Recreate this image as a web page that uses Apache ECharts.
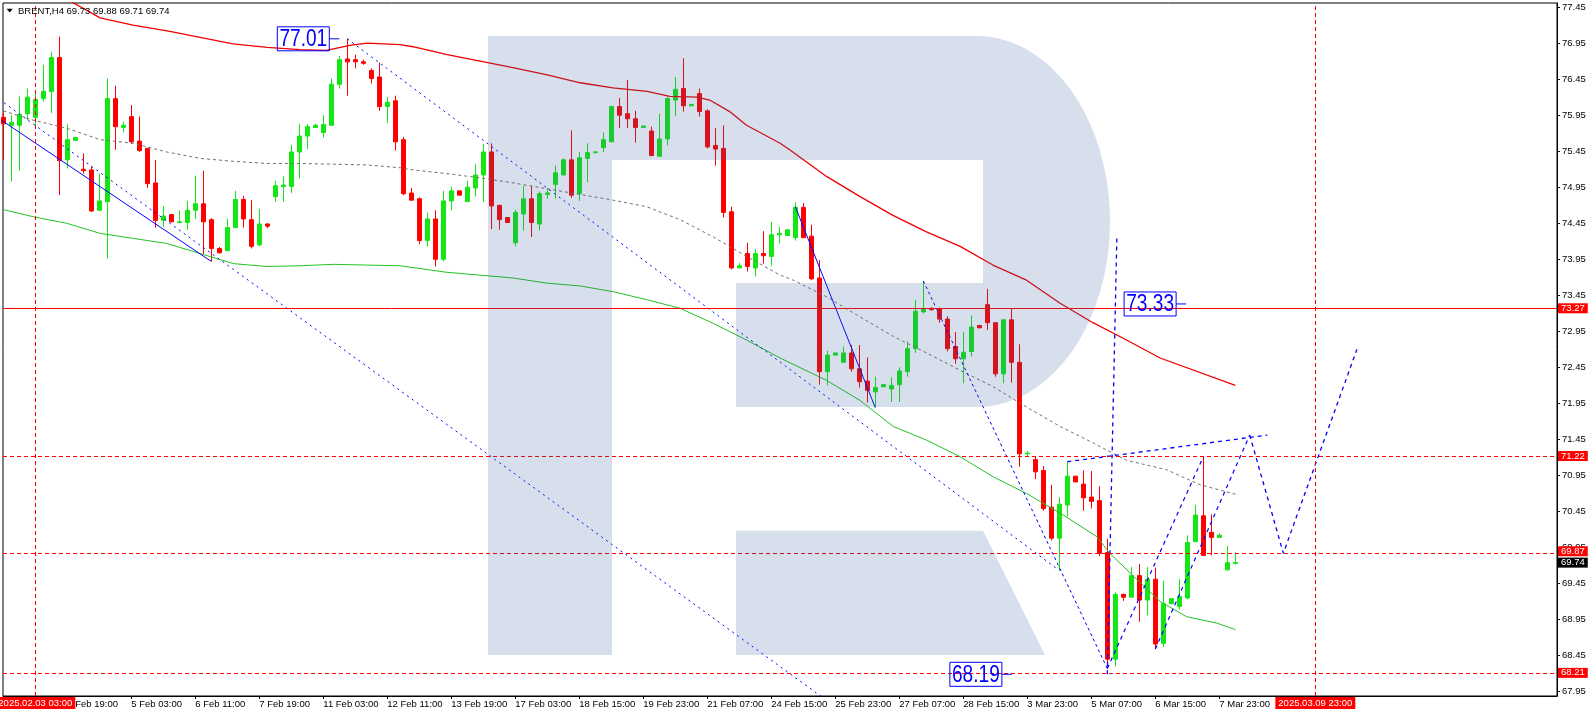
<!DOCTYPE html>
<html><head><meta charset="utf-8">
<script src="https://cdn.jsdelivr.net/npm/echarts@6/dist/echarts.min.js"></script>
<style>html,body{margin:0;padding:0;background:#fff}#c{width:1596px;height:716px}</style>
</head><body><div id="c"></div>
<script>
const symbolName = 'BRENT,H4';
const tickIdx = [8,16,24,32,40,48,56,64,72,80,88,96,104,112,120,128,136,144,152];
const tickLabels = ['3 Feb 19:00','5 Feb 03:00','6 Feb 11:00','7 Feb 19:00','11 Feb 03:00','12 Feb 11:00','13 Feb 19:00','17 Feb 03:00','18 Feb 15:00','19 Feb 23:00','21 Feb 07:00','24 Feb 15:00','25 Feb 23:00','27 Feb 07:00','28 Feb 15:00','3 Mar 23:00','5 Mar 07:00','6 Mar 15:00','7 Mar 23:00'];
const priceTicks = [67.95,68.45,68.95,69.45,69.95,70.45,70.95,71.45,71.95,72.45,72.95,73.45,73.95,74.45,74.95,75.45,75.95,76.45,76.95,77.45];

const open = [75.92,75.81,75.81,75.97,75.92,76.18,76.28,76.75,75.33,75.60,
75.20,75.19,74.63,74.75,76.18,75.78,75.93,75.59,75.49,75.01,
74.49,74.57,74.46,74.46,74.63,74.72,74.50,74.10,74.07,74.39,
74.78,74.50,74.15,74.44,74.82,74.96,74.96,75.44,75.66,75.78,
75.71,75.81,76.38,76.73,76.72,76.69,76.57,76.48,76.07,76.15,
75.61,74.87,74.79,74.21,74.51,73.95,74.76,74.90,74.75,74.94,
75.12,75.44,74.70,74.53,74.18,74.58,74.79,74.44,74.85,74.99,
75.12,75.33,74.86,75.35,75.43,75.50,75.58,76.07,75.97,75.90,
75.78,75.73,75.38,75.62,76.16,76.32,76.08,76.25,76.01,75.53,
75.49,74.61,73.83,74.03,73.83,74.03,73.99,74.29,74.28,74.25,
74.67,74.27,73.69,72.39,72.62,72.52,72.65,72.43,72.26,72.11,
72.18,72.15,72.21,72.39,72.71,73.22,73.27,73.26,73.12,72.74,
72.57,72.67,73.03,73.32,73.07,72.36,73.11,72.52,71.25,71.17,
71.02,70.51,70.08,70.54,70.94,70.83,70.65,70.60,69.88,68.40,
69.30,69.26,69.56,69.22,69.51,68.62,69.17,69.13,69.25,70.03,
70.39,70.16,70.09,69.64,69.73];
const close = [75.83,75.85,75.96,76.20,76.17,76.28,76.75,75.32,75.61,75.64,
75.18,74.62,74.76,76.18,75.79,75.81,75.58,75.46,75.00,74.49,
74.55,74.47,74.47,74.63,74.72,74.47,74.10,74.04,74.39,74.78,
74.51,74.13,74.44,74.41,74.97,74.98,75.44,75.66,75.79,75.81,
75.82,76.38,76.72,76.69,76.69,76.67,76.46,76.07,76.13,75.58,
74.86,74.77,74.21,74.51,73.95,74.76,74.90,74.84,74.95,75.12,
75.44,74.69,74.50,74.46,74.60,74.79,74.46,74.86,74.87,75.15,
75.33,74.84,75.36,75.43,75.44,75.61,76.07,75.95,75.90,75.78,
75.80,75.39,75.62,76.18,76.31,76.08,76.10,76.00,75.51,75.48,
74.60,73.83,73.86,73.85,74.03,74.00,74.29,74.31,74.36,74.67,
74.25,73.68,72.39,72.62,72.65,72.65,72.43,72.25,72.13,72.17,
72.21,72.20,72.40,72.71,73.23,73.26,73.25,73.12,72.71,72.57,
72.66,73.01,73.00,73.07,72.36,73.11,72.52,71.25,71.26,71.00,
70.49,70.08,70.55,70.94,70.86,70.64,70.59,69.87,68.40,69.30,
69.26,69.56,69.22,69.51,68.61,69.17,69.24,69.27,70.02,70.40,
69.84,70.09,70.12,69.74,69.74];
const high = [75.98,75.95,76.21,76.32,76.30,76.65,76.83,77.04,75.83,75.65,
75.42,75.24,75.14,76.46,76.36,75.86,76.09,75.93,75.49,75.33,
74.69,74.58,74.63,74.76,75.11,75.18,74.52,74.12,74.51,74.90,
74.83,74.77,74.65,74.45,75.04,75.10,75.54,75.83,75.83,75.83,
75.95,76.46,76.77,77.01,76.79,76.72,76.60,76.68,76.20,76.22,
75.65,74.94,74.81,74.60,74.63,74.90,74.96,74.90,75.04,75.27,
75.55,75.56,74.70,74.53,74.64,74.97,74.97,74.89,74.94,75.25,
75.35,75.74,75.44,75.56,75.45,75.71,76.08,76.19,76.44,76.01,
75.80,75.79,75.97,76.20,76.48,76.74,76.10,76.32,76.03,75.77,
75.81,74.68,73.90,74.18,74.09,74.34,74.47,74.40,74.36,74.74,
74.73,74.43,73.94,72.68,72.65,72.74,72.76,72.76,72.59,72.32,
72.21,72.31,72.45,72.81,73.39,73.65,73.28,73.28,73.16,72.94,
72.94,73.17,73.04,73.54,73.07,73.12,73.26,72.77,71.29,71.21,
71.08,70.82,70.65,71.14,70.94,71.02,71.01,70.80,70.07,69.33,
69.31,69.68,69.72,69.68,69.67,69.49,69.24,69.51,70.12,70.54,
71.21,70.41,70.15,69.97,69.88];
const low = [75.33,75.03,75.18,75.88,75.77,76.14,75.98,74.84,75.21,75.60,
75.14,74.61,74.63,73.96,75.47,75.71,75.55,75.44,74.94,74.39,
74.40,74.46,74.46,74.36,74.51,74.02,73.92,74.03,74.07,74.39,
74.39,74.10,74.13,74.38,74.75,74.75,74.87,75.07,75.48,75.77,
75.64,75.81,76.32,76.22,76.60,76.65,76.39,76.01,75.84,75.46,
74.84,74.77,74.16,74.13,73.85,73.92,74.63,74.84,74.75,74.82,
74.75,74.37,74.36,74.46,74.13,74.35,74.26,74.35,74.79,74.79,
75.12,74.80,74.76,75.02,75.42,75.44,75.58,75.77,75.77,75.57,
75.78,75.38,75.38,75.53,75.94,76.00,76.08,75.93,75.49,75.25,
74.53,73.81,73.83,73.78,73.71,73.89,73.86,74.17,74.28,74.21,
74.25,73.66,72.21,72.20,72.62,72.52,72.39,72.17,71.96,71.90,
72.18,71.97,71.97,72.32,72.65,73.20,73.24,73.07,72.67,72.50,
72.23,72.60,72.99,72.97,72.32,72.23,72.24,71.07,71.21,70.90,
70.46,70.05,69.63,70.38,70.86,70.46,70.49,69.83,68.27,68.30,
69.21,69.26,68.92,69.01,68.54,68.57,69.17,69.09,69.23,70.03,
69.84,69.84,70.08,69.63,69.71];

const maRed = [[0,78.06],[8.1,77.55],[12.1,77.30],[16.2,77.20],[20.5,77.12],[24.6,77.03],[28.7,76.94],[33.0,76.89],[37.1,76.86],[40.4,76.85],[43.3,76.92],[45.5,76.95],[49.6,76.93],[51.2,76.90],[55.5,76.79],[59.6,76.70],[63.7,76.61],[68.0,76.51],[72.1,76.40],[76.2,76.33],[80.5,76.28],[83.3,76.21],[86.7,76.20],[88.3,76.16],[90.8,76.00],[92.9,75.81],[97.1,75.56],[98.3,75.47],[102.9,75.10],[107.1,74.82],[111.2,74.56],[115.4,74.33],[119.6,74.13],[123.7,73.87],[127.9,73.66],[132.1,73.34],[136.2,73.07],[140.4,72.83],[144.6,72.58],[154,72.20]];
const maGrey = [[0,76.01],[3.75,75.88],[7.9,75.77],[12.1,75.61],[16.25,75.56],[20.4,75.44],[24.6,75.35],[28.75,75.31],[32.9,75.28],[37.1,75.28],[41.25,75.27],[45.4,75.26],[49.6,75.22],[51.25,75.19],[55.4,75.14],[59.6,75.08],[63.75,75.01],[67.9,74.93],[72.1,74.85],[76.25,74.77],[80.4,74.68],[84.6,74.50],[88.75,74.26],[92.9,73.99],[97.1,73.73],[98.75,73.66],[102.9,73.43],[107.1,73.15],[111.25,72.88],[115.4,72.65],[119.6,72.41],[123.75,72.18],[127.9,71.90],[132.1,71.63],[136.25,71.40],[140.4,71.16],[145.4,71.03],[149.6,70.82],[154,70.69]];
const maGreen = [[0,74.64],[3.75,74.54],[7.9,74.45],[12.1,74.31],[16.25,74.24],[20.4,74.17],[24.6,74.03],[28.75,73.89],[32.9,73.85],[37.1,73.86],[41.25,73.88],[45.4,73.87],[49.6,73.86],[55.4,73.77],[59.6,73.73],[63.75,73.69],[67.9,73.62],[72.1,73.58],[76.25,73.50],[80.4,73.39],[84.6,73.27],[88.75,73.06],[92.9,72.83],[97.1,72.58],[102.9,72.27],[107.1,71.99],[111.25,71.63],[115.4,71.44],[119.6,71.21],[123.75,70.93],[127.9,70.70],[132.5,70.40],[136.7,70.10],[138.3,69.87],[141.1,69.57],[144.6,69.20],[147.9,68.99],[151.7,68.90],[154,68.81]];

const solidLevels = [73.27];
const dashedLevels = [71.22, 69.87, 68.21];
const lastPrice = 69.74;
const markerIdx = [4, 164];
const markerLabels = ['2025.02.03 03:00', '2025.03.09 23:00'];

const lineA = [[-0.5,75.90],[26,73.92]];
const lineB = [[-0.5,76.17],[105,67.66]];
const lineC = [[43,77.01],[132,69.63]];
const lineD = [[99,74.68],[109,71.89]];
const lineE = [[115,73.65],[138,68.27]];
const lineF = [[138,68.19],[139.2,74.29]];
const lineG = [[133,71.14],[158,71.51]];
const lineH = [[138,68.27],[150,71.21]];
const lineI = [[144,68.54],[155.8,71.51]];
const forecast = [[155.8,71.51],[160,69.87],[169.2,72.70]];
const priceLabels = [[42,77.01],[147.85,73.33],[126.07,68.19]];

const FONT = '"Liberation Sans", Arial, sans-serif';
const candles = open.map((o, i) => [i, o, close[i], low[i], high[i]]);
const n = open.length - 1;
const header = symbolName + ' ' + [open[n], high[n], low[n], close[n]].map(v => v.toFixed(2)).join(' ');

// watermark logo outline (pixel space, not data)
const logoPts = [[488,36],[977,36]];
for (let k = 1; k < 40; k++) {
  const t = -Math.PI/2 + Math.PI * k / 40;
  logoPts.push([977 + 133*Math.cos(t), 221.5 + 185.5*Math.sin(t)]);
}
logoPts.push([977,407],[736,407],[736,283],[983,283],[983,160],[612,160],[612,655],[488,655]);

function blue(data, dash, width) {
  return {type:'line', data, showSymbol:false, silent:true, z:4,
    lineStyle:{color:'#0000ff', width: width || 1, type: dash || 'solid'}};
}
const redLbl = {show:true, position:'end', distance:1, formatter: p => p.value.toFixed(2),
  color:'#fff', backgroundColor:'#ff0000', padding:[1,3,0,3], fontSize:9.5, lineHeight:9, fontFamily:FONT};

const markData = [];
solidLevels.forEach(v => markData.push({yAxis:v, lineStyle:{type:'solid'}}));
dashedLevels.forEach((v, k) => markData.push({yAxis:v, label: k === 1 ? {offset:[0,-2]} : {}}));
markData.push({yAxis:lastPrice, lineStyle:{color:'rgba(0,0,0,0)', width:0},
  label:{backgroundColor:'#000', color:'#fff', opacity:1}});
markerIdx.forEach((v, k) => markData.push({xAxis:v, label:{position:'start', distance:1, formatter: markerLabels[k], padding:[2,3,1,3]}}));

const chart = echarts.init(document.getElementById('c'), null, {renderer:'canvas'});
chart.setOption({
  animation:false,
  backgroundColor:'#fff',
  textStyle:{fontFamily:FONT},
  grid:{left:3, top:3, right:39, bottom:20, show:true, borderColor:'#000', borderWidth:1},
  xAxis:{type:'value', min:-0.0375, max:194.21,
    axisLine:{show:true, onZero:false, lineStyle:{color:'#000'}},
    axisTick:{show:true, customValues:tickIdx, length:3, lineStyle:{color:'#000'}},
    axisLabel:{show:true, customValues:tickIdx, align:'left', margin:3, fontSize:9.5, color:'#000', fontFamily:FONT,
      formatter: v => { const k = tickIdx.indexOf(Math.round(v)); return k >= 0 ? tickLabels[k] : ''; }},
    splitLine:{show:false}},
  yAxis:{type:'value', position:'right', min:67.889, max:77.507,
    axisLine:{show:true, onZero:false, lineStyle:{color:'#000'}},
    axisTick:{show:true, customValues:priceTicks, length:3, lineStyle:{color:'#000'}},
    axisLabel:{show:true, customValues:priceTicks, margin:5, fontSize:9.5, color:'#000', fontFamily:FONT,
      formatter: v => v.toFixed(2)},
    splitLine:{show:false}},
  graphic:[
    {type:'polygon', z:100, silent:true, shape:{points:logoPts}, style:{fill:'rgba(50,95,155,0.2)'}},
    {type:'polygon', z:100, silent:true, shape:{points:[[736,530.7],[983,530.7],[1045,655],[736,655]]},
     style:{fill:'rgba(50,95,155,0.2)'}},
    {type:'polygon', z:101, silent:true, shape:{points:[[6.7,8.8],[12.7,8.8],[9.7,12.4]]}, style:{fill:'#000'}},
    {type:'text', z:101, silent:true, x:18, y:11,
     style:{text:header, fill:'#000', font:'9.5px ' + FONT, verticalAlign:'middle'}}
  ],
  series:[
    {type:'candlestick', data:candles, barWidth:4, z:2, silent:true,
     itemStyle:{color:'#14e614', color0:'#ff0000', borderColor:'#14e614', borderColor0:'#ff0000', borderWidth:1},
     markLine:{symbol:'none', silent:true, animation:false,
       lineStyle:{color:'#ff0000', width:1, type:[4,3]}, label:redLbl, data:markData}},
    {type:'line', data:maRed, showSymbol:false, silent:true, z:3, lineStyle:{color:'#f00000', width:1.3}},
    {type:'line', data:maGrey, showSymbol:false, silent:true, z:3, lineStyle:{color:'#707070', width:1, type:[3,3]}},
    {type:'line', data:maGreen, showSymbol:false, silent:true, z:3, lineStyle:{color:'#22c322', width:1}},
    blue(lineA, 'solid', 1),
    blue(lineB, [2,4], 1),
    blue(lineC, [2,4], 1),
    blue(lineD, 'solid', 1),
    blue(lineE, [3,3], 1),
    blue(lineF, [4,4], 1.3),
    blue(lineG, [4,4], 1.3),
    blue(lineH, [4,4], 1.2),
    blue(lineI, [4,4], 1.2),
    blue(forecast, [4,4], 1.3),
    {type:'custom', data:priceLabels, z:5, silent:true, encode:{x:0, y:1},
     renderItem:(params, api) => {
       const pt = api.coord([api.value(0), api.value(1)]);
       const bw = 52, bh = 24, x1 = pt[0] - 10, cy = pt[1];
       return {type:'group', children:[
         {type:'line', shape:{x1:x1, y1:cy, x2:pt[0], y2:cy}, style:{stroke:'#0000ff', lineWidth:1}},
         {type:'rect', shape:{x:x1 - bw, y:cy - bh/2, width:bw, height:bh}, style:{fill:'rgba(0,0,0,0)', stroke:'#0000ff', lineWidth:1}},
         {type:'text', x:x1 - bw/2, y:cy + 1, scaleX:0.83,
          style:{text:api.value(1).toFixed(2), fill:'#0000ff', font:'23px ' + FONT,
                 align:'center', verticalAlign:'middle'}}
       ]};
     }}
  ]
});
</script></body></html>
